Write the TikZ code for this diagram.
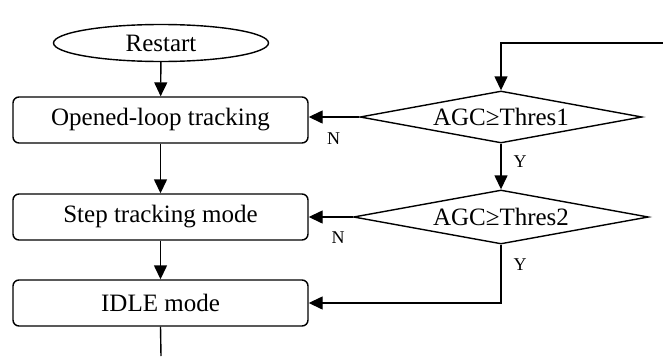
\documentclass[tikz,border=0pt]{standalone}
\usepackage{fontspec}
\setmainfont{Liberation Serif}
\usetikzlibrary{shapes.geometric,arrows.meta}
\begin{document}
\begin{tikzpicture}[x=1pt,y=-1pt,
  every node/.style={inner sep=0pt},
  line/.style={line width=1.4pt},
  arr/.style={line width=1.4pt,-{Triangle[length=14pt,width=13pt]}},
  txt/.style={font=\fontsize{25}{28}\selectfont},
  lbl/.style={font=\fontsize{18}{20}\selectfont},
  startbox/.style={ellipse,draw,line width=1.4pt,minimum width=215pt,minimum height=37pt,txt},
  modebox/.style={rectangle,draw,line width=1.4pt,rounded corners=6pt,minimum width=295pt,minimum height=46pt,txt},
  decbox/.style={diamond,draw,line width=1.4pt,aspect=5.4,txt}]
\useasboundingbox (0,0) rectangle (663,356);
\node[startbox] (rs) at (161,43) {Restart};
\node[modebox] (b1) at (160.5,120) {Opened-loop tracking};
\node[modebox] (b2) at (160.5,217) {Step tracking mode};
\node[modebox] (b3) at (160.5,303) {IDLE mode};
\node[decbox,minimum width=282pt,minimum height=52pt] (d1) at (501,117) {AGC≥Thres1};
\node[decbox,minimum width=295pt,minimum height=54pt] (d2) at (501,217) {AGC≥Thres2};
\coordinate (topin) at (663,43);
\coordinate (bottomout) at (161,356);
\node[lbl] (n1) at (333.5,139) {N};
\node[lbl] (y1) at (520,162) {Y};
\node[lbl] (n2) at (338,238) {N};
\node[lbl] (y2) at (520,265) {Y};
\draw[arr] (rs) -- (b1);
\draw[arr] (b1) -- (b2);
\draw[arr] (b2) -- (b3);
\draw[line] (b3.south) -- (bottomout);
\draw[arr] (topin) -| (d1.north);
\draw[arr] (d1.west) -- (d1.west -| b1.east);
\draw[arr] (d1.south) -- (d2.north);
\draw[arr] (d2.west) -- (d2.west -| b2.east);
\draw[arr] (d2.south) |- (b3.east);
\end{tikzpicture}
\end{document}
